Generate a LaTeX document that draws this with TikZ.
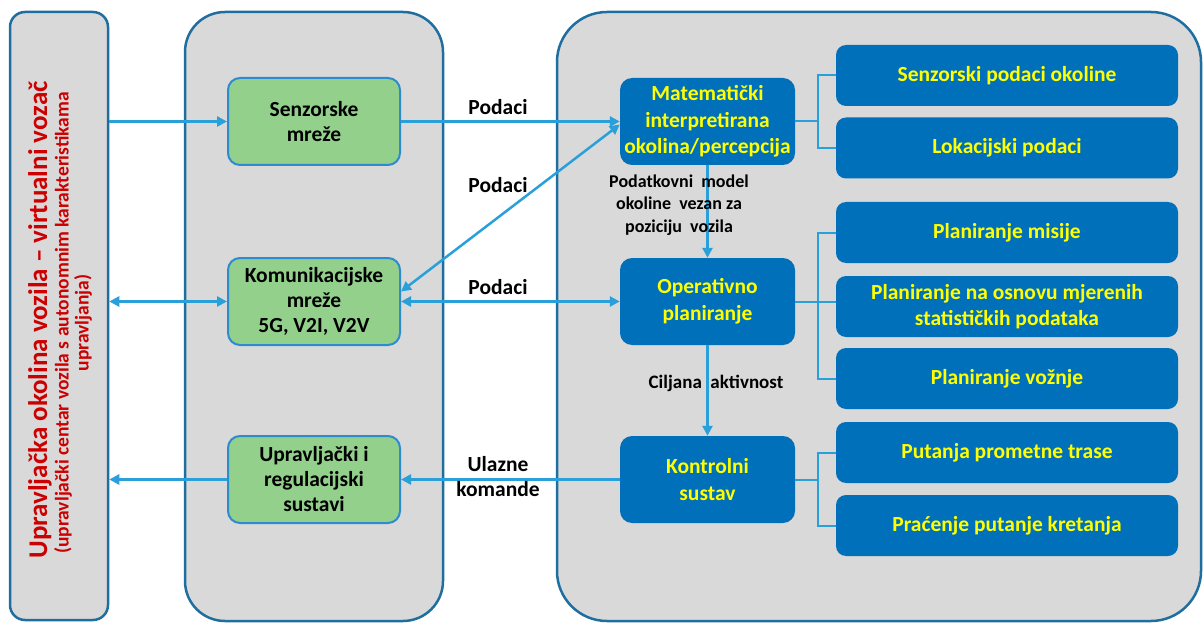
\documentclass[tikz,border=0pt]{standalone}
\usepackage{fontspec}
\setmainfont{Carlito}
\usetikzlibrary{arrows.meta}
\definecolor{panelgray}{RGB}{217,217,217}
\definecolor{panelblue}{RGB}{31,110,160}
\definecolor{boxgreen}{RGB}{146,208,140}
\definecolor{greenborder}{RGB}{46,139,208}
\definecolor{boxblue}{RGB}{0,112,186}
\definecolor{arrowblue}{RGB}{41,160,218}
\definecolor{titlered}{RGB}{204,0,0}
\definecolor{txtyellow}{RGB}{255,255,0}
\tikzset{
  panel/.style={draw=panelblue, line width=2.5pt, fill=panelgray, inner sep=0pt},
  greenbox/.style={draw=greenborder, line width=2pt, fill=boxgreen, rounded corners=12pt,
    minimum width=172pt, minimum height=87pt, align=center, inner sep=0pt,
    font=\bfseries\fontsize{21.5}{25}\selectfont},
  bluebox/.style={fill=boxblue, draw=none, rounded corners=12pt, text=txtyellow,
    minimum width=175pt, minimum height=87pt, align=center, inner sep=0pt,
    font=\bfseries\fontsize{21.5}{26.5}\selectfont},
  itembox/.style={fill=boxblue, draw=none, rounded corners=10pt, text=txtyellow,
    minimum width=342pt, minimum height=61pt, align=center, inner sep=0pt,
    font=\bfseries\fontsize{21.5}{26}\selectfont},
  lbl/.style={align=center, inner sep=0pt, font=\bfseries\fontsize{21.5}{25}\selectfont},
  conn/.style={draw=arrowblue, line width=2.5pt},
  arr/.style={conn, -{Triangle[length=10pt,width=10pt]}},
  darr/.style={conn, {Triangle[length=10pt,width=10pt]}-{Triangle[length=10pt,width=10pt]}},
  tree/.style={draw=arrowblue, line width=2pt}
}
\begin{document}
\begin{tikzpicture}[x=1pt,y=-1pt]
\useasboundingbox (0,0) rectangle (1203,623);
\fill[white] (0,0) rectangle (1203,623);
% panels
\node[panel, rounded corners=15pt, minimum width=98pt, minimum height=608pt] (env) at (59,316) {};
\node[panel, rounded corners=40pt, minimum width=258pt, minimum height=609pt] (net) at (314,316.5) {};
\node[panel, rounded corners=50pt, minimum width=644pt, minimum height=609pt] (sys) at (879,316.5) {};
% left panel title
\node[rotate=90, inner sep=0pt, text=titlered, font=\bfseries\fontsize{27}{30}\selectfont] (ttl) at (40,320) {Upravljačka okolina vozila – virtualni vozač};
\node[rotate=90, inner sep=0pt, align=center, text=titlered, font=\bfseries\fontsize{19.5}{20}\selectfont] (sub) at (73,323) {(upravljački centar vozila s autonomnim karakteristikama\\upravljanja)};
% green boxes
\node[greenbox] (sen) at (314,121.5) {Senzorske\\mreže};
\node[greenbox] (kom) at (314,301.5) {Komunikacijske\\mreže\\5G, V2I, V2V};
\node[greenbox] (upr) at (314,479.5) {Upravljački i\\regulacijski\\sustavi};
% blue boxes
\node[bluebox] (mat) at (707.5,121.5) {Matematički\\interpretirana\\okolina/percepcija};
\node[bluebox] (op) at (707.5,301.5) {Operativno\\planiranje};
\node[bluebox] (kon) at (707.5,479.5) {Kontrolni\\sustav};
% item boxes
\node[itembox] (i1) at (1007,75.5) {Senzorski podaci okoline};
\node[itembox] (i2) at (1007,148) {Lokacijski podaci};
\node[itembox] (i3) at (1007,232.5) {Planiranje misije};
\node[itembox] (i4) at (1007,306.5) {Planiranje na osnovu mjerenih\\statističkih podataka};
\node[itembox] (i5) at (1007,378.5) {Planiranje vožnje};
\node[itembox] (i6) at (1007,452.5) {Putanja prometne trase};
\node[itembox] (i7) at (1007,525.5) {Praćenje putanje kretanja};
% tree connectors
\coordinate (tx) at (818,0);
\draw[tree] (mat.east) -- (tx |- mat.east);
\draw[tree] (i1.west) -| (tx |- i2.west) -- (i2.west);
\draw[tree] (op.east) -- (i4.west |- op.east);
\draw[tree] (i3.west) -| (tx |- i5.west) -- (i5.west);
\draw[tree] (kon.east) -- (tx |- kon.east);
\draw[tree] (i6.west) -| (tx |- i7.west) -- (i7.west);
% arrows to/from left panel
\draw[arr] (env.east |- sen.west) -- (sen.west);
\draw[darr] (env.east |- kom.west) -- (kom.west);
\draw[arr] (upr.west) -- (env.east |- upr.west);
% middle arrows
\draw[arr] (sen.east) -- (mat.west);
\draw[darr] ([yshift=10pt]kom.east) -- ([yshift=-3pt]mat.west);
\draw[darr] (kom.east) -- (op.west);
\draw[arr] (kon.west) -- (upr.east);
\draw[arr] (mat.south) -- (op.north);
\draw[arr] (op.south) -- (kon.north);
% labels
\node[lbl] (l1) at (498,107) {Podaci};
\node[lbl] (l2) at (498,185) {Podaci};
\node[lbl] (l3) at (498,287) {Podaci};
\node[lbl] (l4) at (498,477) {Ulazne\\komande};
\node[lbl, font=\bfseries\fontsize{18}{22.5}\selectfont] (l5) at (679,205) {Podatkovni\ \ model\\okoline\ \ vezan za\\poziciju\ \ vozila};
\node[lbl, font=\bfseries\fontsize{19}{22}\selectfont] (l6) at (716,383) {Ciljana\ \ aktivnost};
\end{tikzpicture}
\end{document}
